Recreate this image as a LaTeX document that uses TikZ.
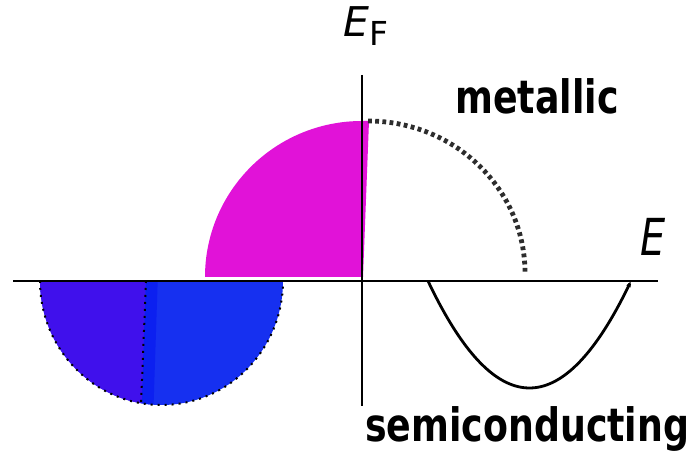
\documentclass[tikz,border=0pt]{standalone}
\usepackage{fontspec}
\usepackage{graphicx}
\newfontfamily\labfont{DejaVu Sans}
\usetikzlibrary{arrows.meta}
\definecolor{magentafill}{RGB}{225,18,216}
\definecolor{purplefill}{RGB}{64,16,236}
\definecolor{bluefill}{RGB}{22,48,240}
\definecolor{bluedeep}{RGB}{12,32,240}
\definecolor{dotgray}{RGB}{45,45,45}
\tikzset{
  axisline/.style={line width=2.8pt, black},
  dotline/.style={line width=2pt, black, dash pattern=on 2pt off 5pt},
  metaldots/.style={line width=4.8pt, dotgray, dash pattern=on 3.8pt off 3.4pt},
  bandline/.style={line width=2.8pt, black},
  boldlab/.style={inner sep=0pt, anchor=base west, font=\labfont\bfseries\fontsize{46}{50}\selectfont},
  itlab/.style={inner sep=0pt, anchor=base west},
}
\begin{document}
\begin{tikzpicture}[x=1pt,y=1pt]
\useasboundingbox (0,0) rectangle (696,462);
% magenta quarter
\fill[magentafill] (205,185) arc[start angle=180,end angle=90,x radius=157,y radius=156] -- (369,341) -- (363,185) -- cycle;
% blue half
\begin{scope}
  \clip (40,181) arc[start angle=180,end angle=360,x radius=121.5,y radius=124] -- cycle;
  \fill[bluefill] (30,190) rectangle (300,40);
  \fill[bluedeep] (146,190) -- (158,190) -- (153,40) -- (141,40) -- cycle;
  \fill[purplefill] (30,190) -- (146,190) -- (141,40) -- (30,40) -- cycle;
\end{scope}
\draw[dotline] (40,181) arc[start angle=180,end angle=360,x radius=121.5,y radius=124];
\draw[dotline] (146,181) -- (141,57);
% metallic dotted arc
\draw[metaldots] (368,341) arc[start angle=90,end angle=0,x radius=157,y radius=152];
% axes
\draw[axisline] (13,181) -- (658,181);
\draw[line width=2.6pt] (362,387) -- (362,56);
% semiconducting band
\draw[bandline, -{Latex[length=6pt,width=5pt]}] plot[domain=428:631,samples=80,smooth] (\x,{181-107*(1-((\x-529.5)/101.5)^2)});
% labels
\node[boldlab] (met) at (455,348) {\scalebox{0.79}[1]{metallic}};
\node[boldlab] (semi) at (365,20) {\scalebox{0.79}[1]{semiconducting}};
\node[itlab] (ef) at (343,425) {\labfont{\itshape\fontsize{41}{44}\selectfont E}\raisebox{-9pt}{\fontsize{33}{36}\selectfont F}};
\node[itlab] (elab) at (640,206) {\scalebox{0.78}[1]{\labfont\itshape\fontsize{51}{54}\selectfont E}};
\end{tikzpicture}
\end{document}
